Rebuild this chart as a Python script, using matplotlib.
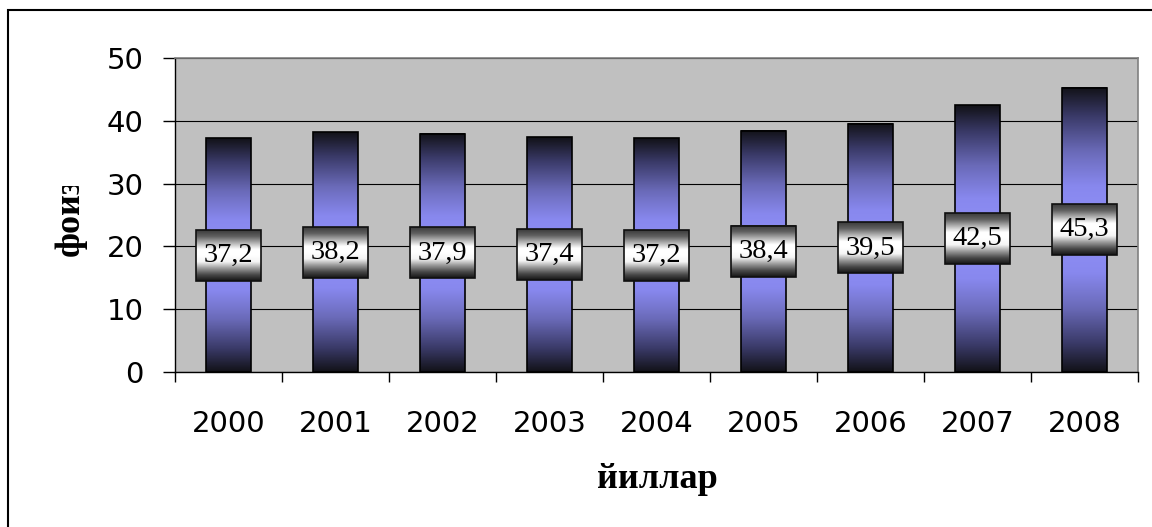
import numpy as np
import matplotlib.pyplot as plt
from matplotlib.colors import LinearSegmentedColormap
from matplotlib.patches import Rectangle

years = ['2000', '2001', '2002', '2003', '2004', '2005', '2006', '2007', '2008']
values = [37.2, 38.2, 37.9, 37.4, 37.2, 38.4, 39.5, 42.5, 45.3]
yticks = [0, 10, 20, 30, 40, 50]
xlabel = 'йиллар'
ylabel = 'фоиз'

W, H = 1152, 527
fig = plt.figure(figsize=(W / 100, H / 100), dpi=100)
ax = fig.add_axes([175 / W, 1 - 372 / H, (1138 - 175) / W, (372 - 58) / H])
ax.set_facecolor('#c0c0c0')

# bar gradient: dark at both ends, light lavender in the middle
bar_cmap = LinearSegmentedColormap.from_list(
    'bar', [(0, '#121218'), (0.2, '#3a3a68'), (0.45, '#6a6ab8'), (0.7, '#8888ee'), (1, '#9090f8')])
box_cmap = LinearSegmentedColormap.from_list(
    'box', ['#141414', '#4a4a4a', '#9a9a9a', '#f4f4f4', '#ffffff', '#ffffff', '#b0b0b0', '#606060', '#3a3a3a'])

grad = 1 - np.abs(np.linspace(-1, 1, 256))[:, None]
box_grad = np.linspace(0, 1, 256)[:, None]

bar_w = 0.42
box_w = 65 / 107
box_h = 51 / 6.28

x = np.arange(len(values))
bars = ax.bar(x, values, width=bar_w, facecolor='none', edgecolor='black', linewidth=1.2, zorder=3)
for rect, v in zip(bars, values):
    x0 = rect.get_x()
    ax.imshow(grad, extent=[x0, x0 + rect.get_width(), 0, v], origin='lower',
              cmap=bar_cmap, aspect='auto', zorder=2, interpolation='bilinear')
    cx = x0 + rect.get_width() / 2
    cy = v / 2
    ax.imshow(box_grad, extent=[cx - box_w / 2, cx + box_w / 2, cy - box_h / 2, cy + box_h / 2],
              origin='lower', cmap=box_cmap, aspect='auto', zorder=4, interpolation='bilinear')
    ax.add_patch(Rectangle((cx - box_w / 2, cy - box_h / 2), box_w, box_h, fill=False,
                           edgecolor='#101010', linewidth=1.2, zorder=5))
    ax.text(cx, cy, f'{v:.1f}'.replace('.', ','), ha='center', va='center', zorder=6,
            fontsize=20.5, family='Liberation Serif', color='black')

ax.set_xlim(-0.5, len(values) - 0.5)
ax.set_ylim(0, 50)
ax.set_yticks(yticks)
ax.set_axisbelow(True)
ax.yaxis.grid(True, color='black', linewidth=0.8)

ax.set_xticks(x, years)
ax.set_xticks(np.arange(-0.5, len(values), 1), minor=True)
ax.tick_params(axis='x', which='major', length=0, pad=27, labelsize=21)
ax.tick_params(axis='x', which='minor', length=7, width=1, color='black', direction='out')
ax.tick_params(axis='y', length=8.6, width=1, pad=14, labelsize=21)

for s in ['left', 'bottom']:
    ax.spines[s].set_color('black')
    ax.spines[s].set_linewidth(1)
for s in ['top', 'right']:
    ax.spines[s].set_color('#808080')
    ax.spines[s].set_linewidth(1.2)

fig.text(657 / W, 1 - 480 / H, xlabel, ha='center', va='center', fontsize=26,
         family='Liberation Serif', weight='bold')
# y label starts at the bottom and is cut off near the top, as in the source
yl = fig.text(70 / W, 1 - 256 / H, ylabel, ha='left', va='center', rotation=90,
              rotation_mode='anchor', fontsize=26, family='Liberation Serif', weight='bold')
yl.set_clip_path(Rectangle((0, 0), 1, 1 - 186 / H, transform=fig.transFigure))

# outer frame (cut off at right and bottom)
fig.add_artist(Rectangle((8 / W, -0.1), 1.2, 1.1 - 10 / H, transform=fig.transFigure,
                         fill=False, edgecolor='black', linewidth=1.5))

fig.savefig('out.png', dpi=100)
